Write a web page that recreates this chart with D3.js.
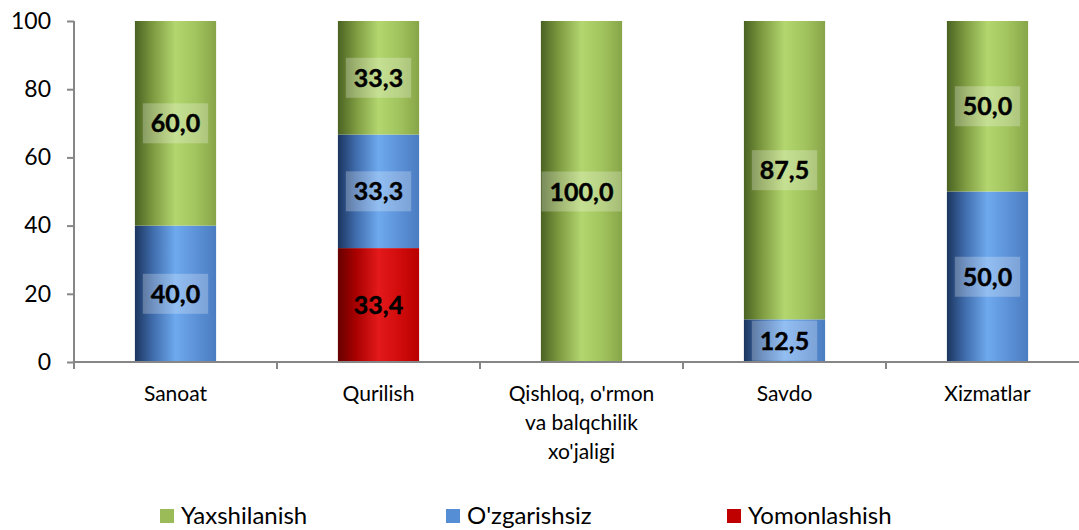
<!DOCTYPE html>
<html>
<head>
<meta charset="utf-8">
<script src="https://cdn.jsdelivr.net/npm/d3@7"></script>
<style>
  body { margin: 0; background: #fff; }
  text { font-family: Lato, "Open Sans", sans-serif; fill: #000; }
</style>
</head>
<body>
<svg id="chart" width="1079" height="530"></svg>
<script>
// chart data
var categories = ["Sanoat", "Qurilish", "Qishloq, o'rmon\nva balqchilik\nxo'jaligi", "Savdo", "Xizmatlar"]
var seriesNames = ["Yomonlashish", "O'zgarishsiz", "Yaxshilanish"]
var yomonlashish = [0, 33.4, 0, 0, 0]
var ozgarishsiz = [40.0, 33.3, 0, 12.5, 50.0]
var yaxshilanish = [60.0, 33.3, 100.0, 87.5, 50.0]
var yTicks = [0, 20, 40, 60, 80, 100]
var legendOrder = ["Yaxshilanish", "O'zgarishsiz", "Yomonlashish"]

var svg = d3.select("#chart")
var axisColor = "#868686"

var rows = categories.map((c, i) => ({
  cat: c, "Yomonlashish": yomonlashish[i], "O'zgarishsiz": ozgarishsiz[i], "Yaxshilanish": yaxshilanish[i]
}))

var x = d3.scaleBand().domain(categories).range([74, 1089]).padding(0)
var y = d3.scaleLinear().domain([0, 100]).range([362, 21])
var barW = x.bandwidth() * 0.4

//----------------------------------------------------------- gradients
var grads = {
  "Yaxshilanish": { stops: ["#4a6222", "#7d9a40", "#b3d66f", "#a2c45e", "#87a548"], solid: "#9bbb59" },
  "O'zgarishsiz": { stops: ["#1b355e", "#3f6cac", "#6ea9ee", "#5d92d8", "#4a7cc0"], solid: "#558ed5" },
  "Yomonlashish": { stops: ["#660000", "#a80000", "#e3191b", "#d20c0c", "#b80000"], solid: "#c00000" }
}
var defs = svg.append("defs")
seriesNames.forEach((s, k) => {
  var g = defs.append("linearGradient").attr("id", "g" + k).attr("x1", "0%").attr("x2", "100%").attr("y1", "0%").attr("y2", "0%")
  var offs = [0, 0.22, 0.5, 0.75, 1]
  grads[s].stops.forEach((c, j) => g.append("stop").attr("offset", offs[j]).attr("stop-color", c))
})

//----------------------------------------------------------- bars
var stack = d3.stack().keys(seriesNames)(rows)
var layer = svg.selectAll(".layer").data(stack).join("g").attr("class", "layer")
  .attr("fill", (d, k) => "url(#g" + k + ")")
layer.selectAll("rect").data(d => d.filter(p => p[1] - p[0] > 0)).join("rect")
  .attr("x", d => x(d.data.cat) + (x.bandwidth() - barW) / 2)
  .attr("y", d => y(d[1]))
  .attr("width", barW)
  .attr("height", d => y(d[0]) - y(d[1]))

//----------------------------------------------------------- axes
var yAxis = svg.append("g").attr("transform", "translate(74,0)")
  .call(d3.axisLeft(y).tickValues(yTicks).tickSize(7).tickFormat(d3.format("d")))
yAxis.select(".domain").attr("stroke", axisColor).attr("stroke-width", 2).attr("d", "M0," + y(100) + "V" + y(0))
yAxis.selectAll(".tick line").attr("stroke", axisColor).attr("stroke-width", 2)
yAxis.selectAll(".tick text").attr("x", -23).attr("font-size", 23).attr("font-family", "Lato").attr("fill", "#000")

var xAxis = svg.append("g").attr("transform", "translate(0," + y(0) + ")")
xAxis.append("line").attr("x1", 73).attr("x2", 1079).attr("y1", 0).attr("y2", 0)
  .attr("stroke", axisColor).attr("stroke-width", 2)
xAxis.selectAll(".xt").data(categories).join("line").attr("class", "xt")
  .attr("x1", d => x(d)).attr("x2", d => x(d)).attr("y1", 0).attr("y2", 7)
  .attr("stroke", axisColor).attr("stroke-width", 2)
xAxis.selectAll(".xl").data(categories).join("text").attr("class", "xl")
  .attr("text-anchor", "middle").attr("font-size", 21)
  .each(function (d) {
    d3.select(this).selectAll("tspan").data(d.split("\n")).join("tspan")
      .attr("x", x(d) + x.bandwidth() / 2)
      .attr("y", (t, i) => 39 + i * 29)
      .text(t => t)
  })

//----------------------------------------------------------- value labels
var fmt = v => d3.format(".1f")(v).replace(".", ",")
var labels = []
stack.forEach((ser, k) => ser.forEach(p => {
  if (p[1] - p[0] > 0) labels.push({ key: ser.key, cat: p.data.cat, v: p[1] - p[0], mid: (p[0] + p[1]) / 2 })
}))
var lab = svg.selectAll(".lab").data(labels).join("g").attr("class", "lab")
  .attr("transform", d => "translate(" + (x(d.cat) + x.bandwidth() / 2) + "," + y(d.mid) + ")")
lab.append("text").attr("text-anchor", "middle").attr("dy", "0.36em")
  .attr("font-size", 25).attr("font-weight", "bold").attr("stroke", "#000").attr("stroke-width", 0.4)
  .text(d => fmt(d.v))
lab.each(function (d) {
  if (d.key === "Yomonlashish") return
  var bb = d3.select(this).select("text").node().getBBox()
  d3.select(this).insert("rect", "text")
    .attr("x", bb.x - 8).attr("y", -20).attr("width", bb.width + 16).attr("height", 40)
    .attr("fill", "#fff").attr("fill-opacity", 0.25)
})

//----------------------------------------------------------- legend
var legX = [160, 446, 727]
var leg = svg.selectAll(".leg").data(legendOrder).join("g").attr("class", "leg")
  .attr("transform", (d, i) => "translate(" + legX[i] + ",508)")
leg.append("rect").attr("width", 14).attr("height", 14).attr("y", 1).attr("fill", d => grads[d].solid)
leg.append("text").attr("x", 21).attr("y", 16).attr("font-size", 24).text(d => d)
</script>
</body>
</html>
